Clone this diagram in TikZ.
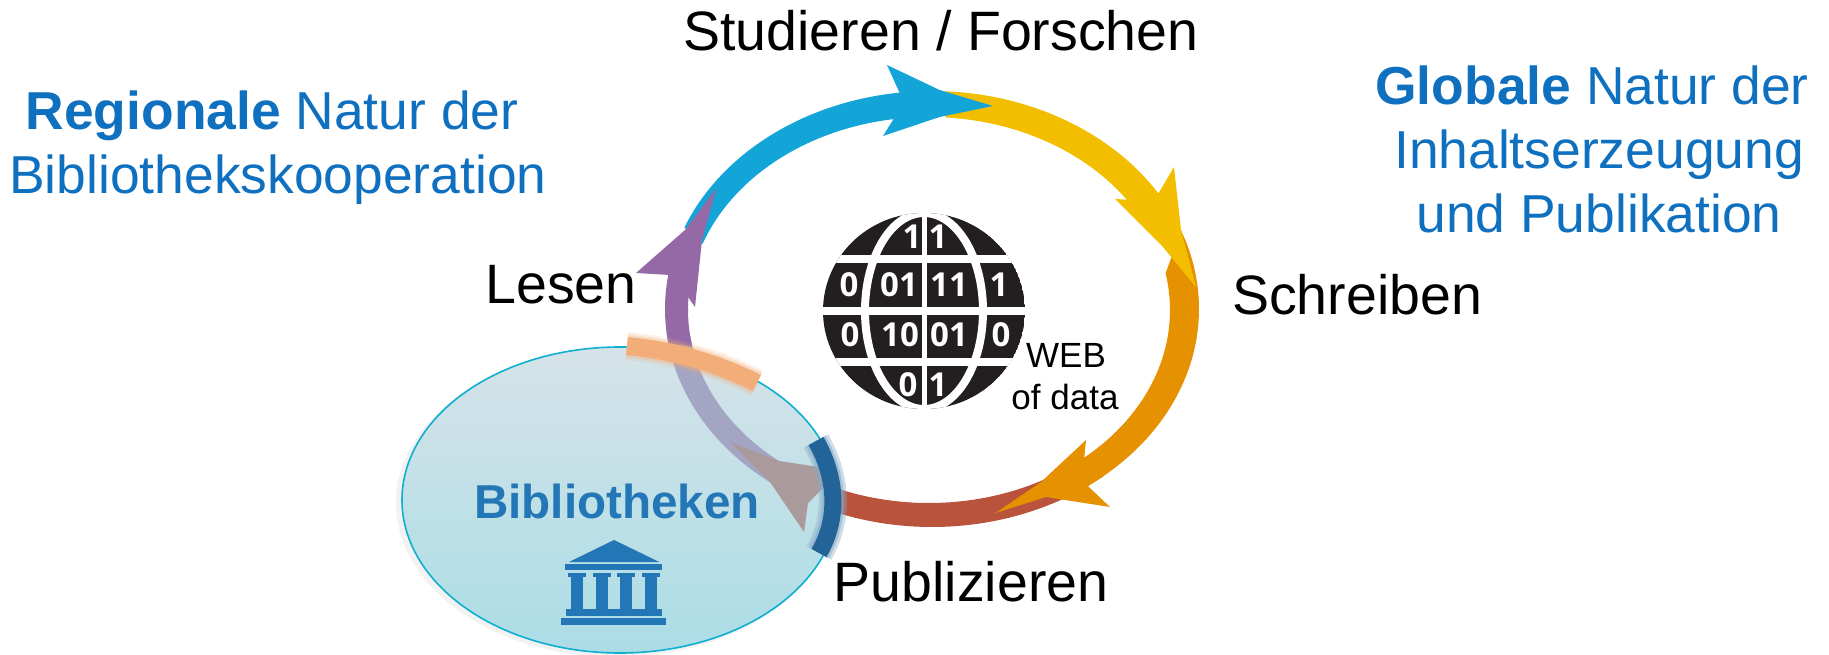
\documentclass[tikz,border=0pt]{standalone}
\usepackage{fontspec}
\setmainfont{Liberation Sans}
\newfontfamily\digitfont{Open Sans}
\definecolor{txtblue}{HTML}{0E70BF}
\definecolor{libblue}{HTML}{2477B7}
\definecolor{cblue}{HTML}{13A5D7}
\definecolor{cyellow}{HTML}{F4BE00}
\definecolor{corange}{HTML}{E69100}
\definecolor{cred}{HTML}{B9533C}
\definecolor{cpurple}{HTML}{9469A6}
\definecolor{cfade}{HTML}{A3A5C3}
\definecolor{cfadehead}{HTML}{AB9A9B}
\definecolor{bandorange}{HTML}{F2AD78}
\definecolor{bandblue}{HTML}{236498}
\definecolor{globeblack}{HTML}{231F20}
\definecolor{elltop}{RGB}{213,227,232}
\definecolor{ellbot}{RGB}{171,221,230}
\definecolor{ellline}{RGB}{15,175,208}
\tikzset{
  blacklabel/.style={anchor=base,inner sep=0pt,text=black,font=\fontsize{55.5}{60}\selectfont},
  bluelabel/.style={anchor=base,inner sep=0pt,text=txtblue,font=\fontsize{53.4}{58}\selectfont},
  smalllabel/.style={anchor=base,inner sep=0pt,text=black,font=\fontsize{35}{40}\selectfont},
  biblabel/.style={anchor=base,inner sep=0pt,text=libblue,font=\fontsize{47.6}{52}\selectfont\bfseries},
  digit/.style={inner sep=0pt,text=white,font=\digitfont\fontsize{33}{36}\selectfont\bfseries},
  globegap/.style={draw=white,line width=8pt},
  arcplot/.style={samples=40,smooth},
}
% outer and inner edge of the ring
\newcommand{\ox}{932+267*cos(\x)}
\newcommand{\oy}{309-218*sin(\x)}
\newcommand{\ix}{929+241*cos(\x)}
\newcommand{\iy}{310-193*sin(\x)}
\begin{document}
\begin{tikzpicture}[x=1pt,y=-1pt]
\useasboundingbox (0,0) rectangle (1829,655);
% library ellipse
\fill[black,opacity=.05] (616,503) ellipse (220 and 154);
\shade[top color=elltop,bottom color=ellbot] (620,500) ellipse (218 and 153);
\draw[draw=ellline,line width=1.6pt] (620,500) ellipse (218 and 153);
% faded part of purple arrow
\fill[cfade] plot[arcplot,domain=186:233] ({\ox},{\oy}) -- (790,470) -- plot[arcplot,domain=232:188] ({\ix},{\iy}) -- cycle;
\fill[cfadehead] (730,442) -- (779,461) -- (819,467) -- (838,473) -- (808,503) -- (804,532) -- (770,482) -- cycle;
% red arrow
\fill[cred] plot[arcplot,domain=-50:-112] ({\ox},{\oy}) -- plot[arcplot,domain=-114:-53] ({\ix},{\iy}) -- cycle;
% orange arrow
\fill[corange] plot[arcplot,domain=21:-54.3] ({\ox},{\oy}) -- (1110,507) -- (1046,497) -- (995.5,513) -- (1041,482)
  -- (1086,440) -- (1084,460) -- plot[arcplot,domain=-50:11] ({\ix},{\iy}) -- cycle;
% yellow arrow
\fill[cyellow] plot[arcplot,domain=88:32] ({\ox},{\oy}) -- (1174,167) -- (1181,230) -- (1196,287) -- (1163,247)
  -- (1115,199) -- (1133,200) -- plot[arcplot,domain=34:86] ({\ix},{\iy}) -- cycle;
% blue arrow
\fill[cblue] plot[arcplot,domain=158:97] ({\ox},{\oy}) -- (887,65) -- (939.6,90) -- (993,106) -- (939.6,117)
  -- (883,136) -- (893.6,119) -- plot[arcplot,domain=98:160] ({\ix},{\iy}) -- cycle;
% purple arrow
\fill[cpurple] (716.4,188) -- (702,240) -- (695,307) -- (688,297)
  -- plot[arcplot,domain=177:191] ({\ix},{\iy}) -- plot[arcplot,domain=189:171] ({\ox},{\oy}) -- (636,273) -- (685,230) -- cycle;
% orange band
\draw[bandorange,opacity=.18,line width=28pt] (627,346) .. controls (670,350) and (715,362) .. (757,383);
\draw[bandorange,opacity=.3,line width=23pt] (627,346) .. controls (670,350) and (715,362) .. (757,383);
\draw[bandorange,line width=18pt] (627,346) .. controls (670,350) and (715,362) .. (757,383);
% blue band
\draw[bandblue!55!white,opacity=.4,line width=28pt] (816,441) .. controls (838,480) and (838,520) .. (819,553);
\draw[bandblue!55!white,opacity=.55,line width=22pt] (816,441) .. controls (838,480) and (838,520) .. (819,553);
\draw[bandblue,line width=17pt] (816,441) .. controls (838,480) and (838,520) .. (819,553);
% globe
\begin{scope}
\clip (924,311) ellipse (101 and 98);
\fill[globeblack] (924,311) ellipse (101 and 98);
\draw[globegap] (815,259) -- (1035,259);
\draw[globegap] (815,311) -- (1035,311);
\draw[globegap] (815,362) -- (1035,362);
\draw[white,line width=5pt] (924,205) -- (924,415);
\draw[globegap] (924,311) ellipse (59 and 98);
\end{scope}
\node[digit] (d01) at (912,237) {1};
\node[digit] (d02) at (938,237) {1};
\node[digit] (d03) at (849,285) {0};
\node[digit] (d04) at (899,285) {01};
\node[digit] (d05) at (949,285) {11};
\node[digit] (d06) at (999,285) {1};
\node[digit] (d07) at (850,335) {0};
\node[digit] (d08) at (900,335) {10};
\node[digit] (d09) at (949,335) {01};
\node[digit] (d10) at (1001,335) {0};
\node[digit] (d11) at (908,385) {0};
\node[digit] (d12) at (938,385) {1};
% library icon
\fill[libblue] (614,540) -- (659.3,562) -- (569,562) -- cycle;
\fill[libblue] (565,564) rectangle (662,570);
\foreach \cx in {577,602,626,651} {
  \fill[libblue] (\cx-9,573) rectangle (\cx+9,577);
  \fill[libblue] (\cx-6,577) rectangle (\cx+6,609);
}
\fill[libblue] (566,609) rectangle (662,616);
\fill[libblue] (561,618) rectangle (666,625);
% labels
\node[blacklabel] (studieren) at (941,51) {Studieren / Forschen};
\node[blacklabel] (lesen) at (561,303) {Lesen};
\node[blacklabel] (schreiben) at (1357,314) {Schreiben};
\node[blacklabel] (publizieren) at (971,601) {Publizieren};
\node[bluelabel] (reg) at (272,130) {\textbf{Regionale} Natur der};
\node[bluelabel] (bibk) at (278,194) {Bibliothekskooperation};
\node[bluelabel] (glob) at (1592,105) {\textbf{Globale} Natur der};
\node[bluelabel] (inh) at (1599,169) {Inhaltserzeugung};
\node[bluelabel] (und) at (1599,233) {und Publikation};
\node[smalllabel] (web) at (1066,367) {WEB};
\node[smalllabel] (ofdata) at (1065,409) {of data};
\node[biblabel] (bib) at (617,518) {Bibliotheken};
\end{tikzpicture}
\end{document}
